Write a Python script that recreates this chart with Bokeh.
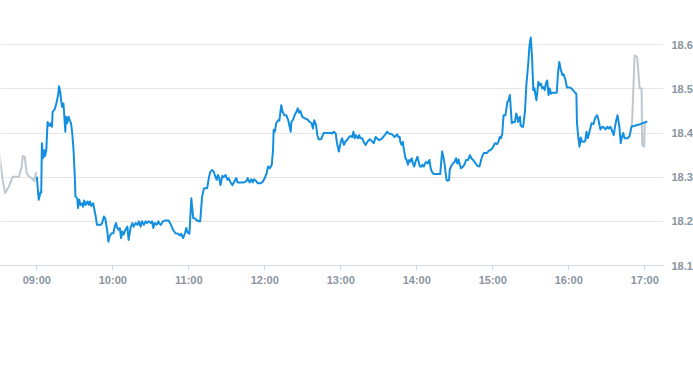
import pandas as pd
from bokeh.plotting import figure
from bokeh.models import FixedTicker, DatetimeTickFormatter, Range1d, NumeralTickFormatter
from bokeh.embed import file_html
from bokeh.resources import INLINE

DAY = "2024-03-15"

blue_times = [
    "09:00:00","09:01:30","09:03:00","09:03:30","09:04:00","09:05:00","09:06:00","09:06:30","09:07:30","09:08:30",
    "09:10:00","09:11:00","09:12:00","09:12:30","09:14:00","09:15:30","09:16:00","09:17:00","09:17:30","09:18:30",
    "09:19:30","09:20:00","09:21:00","09:21:30","09:22:30","09:23:00","09:24:00","09:25:00","09:26:00","09:27:00",
    "09:28:00","09:29:00","09:30:00","09:30:30","09:32:00","09:32:30","09:33:30","09:34:30","09:36:00","09:36:30",
    "09:37:30","09:38:30","09:40:00","09:41:00","09:42:00","09:43:00","09:44:30","09:45:30","09:46:30","09:47:30",
    "09:49:00","09:50:30","09:51:30","09:53:00","09:54:00","09:55:30","09:56:30","09:57:30","09:59:00","10:00:30",
    "10:01:30","10:02:30","10:03:30","10:04:30","10:05:30","10:06:30","10:07:30","10:08:30","10:10:00","10:11:30",
    "10:12:30","10:14:00","10:15:30","10:16:30","10:18:00","10:19:30","10:20:30","10:22:00","10:23:00","10:24:30",
    "10:26:00","10:27:00","10:28:30","10:30:00","10:31:00","10:32:00","10:33:00","10:34:30","10:36:00","10:37:00",
    "10:38:00","10:39:30","10:41:30","10:44:00","10:46:00","10:47:30","10:49:30","10:51:30","10:53:00","10:54:00",
    "10:55:30","10:57:00","10:58:00","10:59:00","11:00:30","11:02:00","11:03:30","11:04:30","11:06:00","11:08:00",
    "11:09:00","11:10:30","11:12:00","11:13:00","11:14:30","11:16:00","11:17:00","11:18:30","11:19:30","11:21:00",
    "11:22:00","11:23:00","11:24:00","11:25:00","11:26:30","11:27:30","11:29:00","11:30:30","11:31:30","11:33:00",
    "11:34:30","11:36:00","11:37:30","11:38:30","11:41:00","11:43:30","11:45:30","11:46:30","11:48:00","11:49:30",
    "11:50:30","11:51:30","11:53:00","11:54:30","11:56:30","11:58:30","12:00:00","12:01:30","12:02:30","12:04:00",
    "12:05:30","12:06:30","12:07:00","12:08:00","12:09:00","12:10:30","12:11:30","12:13:00","12:14:00","12:15:30",
    "12:17:00","12:18:30","12:20:30","12:21:00","12:22:30","12:23:30","12:25:00","12:26:00","12:27:00","12:28:00",
    "12:29:30","12:31:30","12:33:30","12:35:30","12:37:00","12:38:00","12:39:00","12:40:30","12:41:30","12:42:30",
    "12:44:30","12:46:30","12:49:30","12:52:00","12:53:00","12:54:30","12:56:00","12:57:00","12:58:30","13:00:00",
    "13:01:00","13:02:30","13:03:30","13:05:00","13:06:30","13:07:30","13:09:00","13:10:00","13:11:00","13:12:00",
    "13:13:30","13:14:30","13:15:30","13:17:00","13:18:00","13:19:30","13:21:30","13:23:00","13:25:00","13:26:00",
    "13:27:30","13:28:30","13:30:00","13:32:00","13:33:30","13:35:30","13:36:30","13:38:00","13:40:30","13:42:30",
    "13:44:30","13:45:30","13:46:30","13:47:00","13:48:00","13:49:00","13:49:30","13:51:00","13:52:00","13:53:00",
    "13:54:00","13:55:00","13:56:00","13:57:00","13:58:00","13:59:00","14:00:30","14:01:30","14:02:30","14:03:30",
    "14:04:30","14:05:30","14:06:30","14:07:30","14:08:30","14:10:00","14:11:00","14:12:00","14:13:30","14:16:00",
    "14:18:30","14:20:00","14:21:30","14:22:30","14:23:30","14:24:30","14:25:30","14:26:00","14:27:00","14:28:30",
    "14:30:00","14:31:00","14:32:00","14:33:00","14:34:00","14:35:00","14:36:30","14:37:30","14:39:00","14:40:30",
    "14:42:00","14:43:00","14:44:30","14:46:30","14:48:00","14:49:30","14:51:30","14:53:00","14:55:30","14:57:00",
    "14:58:00","14:59:30","15:01:00","15:02:00","15:03:30","15:04:30","15:05:30","15:06:30","15:07:30","15:08:30",
    "15:10:00","15:11:30","15:12:30","15:13:30","15:15:00","15:16:00","15:17:30","15:18:30","15:19:30","15:20:00",
    "15:21:30","15:22:00","15:23:00","15:24:00","15:25:30","15:26:30","15:28:00","15:29:00","15:30:00","15:31:00",
    "15:32:00","15:33:00","15:33:30","15:34:30","15:36:00","15:37:00","15:38:00","15:39:00","15:40:00","15:41:00",
    "15:42:00","15:43:00","15:44:00","15:45:00","15:46:00","15:47:00","15:48:30","15:50:30","15:51:30","15:52:30",
    "15:53:30","15:55:00","15:56:00","15:57:30","15:58:30","16:01:00","16:02:30","16:04:30","16:06:00","16:06:30",
    "16:07:30","16:08:30","16:09:30","16:10:30","16:12:00","16:13:00","16:14:00","16:15:00","16:16:00","16:17:00",
    "16:18:00","16:19:30","16:20:30","16:21:30","16:22:30","16:23:30","16:25:00","16:26:30","16:27:30","16:29:00",
    "16:30:30","16:31:30","16:33:00","16:34:30","16:35:30","16:36:30","16:37:30","16:38:30","16:40:00","16:41:00",
    "16:42:00","16:43:00","16:44:00","16:45:00","16:46:30","16:48:00","16:49:30","16:51:30","16:54:00","16:56:30",
    "16:59:00","17:02:00",
]
blue_prices = [
    18.301,18.249,18.267,18.265,18.377,18.343,18.361,18.348,18.361,18.425,
    18.416,18.422,18.414,18.448,18.453,18.467,18.474,18.489,18.506,18.493,
    18.467,18.459,18.467,18.448,18.403,18.437,18.422,18.437,18.429,18.422,
    18.399,18.361,18.301,18.256,18.252,18.230,18.249,18.237,18.241,18.233,
    18.247,18.237,18.245,18.237,18.245,18.235,18.241,18.226,18.211,18.192,
    18.192,18.192,18.196,18.211,18.207,18.181,18.154,18.166,18.173,18.173,
    18.188,18.196,18.185,18.181,18.185,18.162,18.177,18.170,18.181,18.188,
    18.158,18.185,18.196,18.188,18.196,18.192,18.200,18.188,18.200,18.192,
    18.200,18.196,18.200,18.196,18.200,18.185,18.196,18.192,18.200,18.194,
    18.192,18.200,18.202,18.202,18.192,18.181,18.173,18.172,18.168,18.172,
    18.162,18.173,18.185,18.175,18.172,18.252,18.207,18.207,18.203,18.200,
    18.200,18.256,18.275,18.275,18.275,18.301,18.312,18.316,18.314,18.301,
    18.294,18.305,18.298,18.282,18.303,18.300,18.305,18.294,18.298,18.288,
    18.282,18.290,18.298,18.288,18.288,18.288,18.291,18.298,18.288,18.295,
    18.288,18.295,18.292,18.286,18.286,18.290,18.298,18.309,18.324,18.320,
    18.328,18.361,18.407,18.403,18.422,18.429,18.428,18.463,18.448,18.440,
    18.440,18.429,18.403,18.425,18.431,18.440,18.448,18.456,18.446,18.450,
    18.437,18.433,18.431,18.425,18.422,18.410,18.429,18.418,18.395,18.386,
    18.386,18.400,18.400,18.400,18.399,18.403,18.399,18.377,18.358,18.380,
    18.388,18.373,18.380,18.384,18.391,18.393,18.391,18.403,18.388,18.395,
    18.388,18.395,18.388,18.388,18.380,18.373,18.382,18.386,18.380,18.377,
    18.391,18.388,18.384,18.386,18.391,18.398,18.403,18.399,18.397,18.391,
    18.397,18.391,18.391,18.380,18.373,18.380,18.369,18.343,18.339,18.328,
    18.339,18.335,18.343,18.331,18.324,18.335,18.346,18.335,18.324,18.324,
    18.328,18.324,18.331,18.335,18.331,18.339,18.320,18.312,18.307,18.307,
    18.307,18.358,18.339,18.316,18.294,18.292,18.294,18.316,18.324,18.331,
    18.335,18.343,18.331,18.340,18.328,18.320,18.324,18.328,18.339,18.339,
    18.350,18.343,18.339,18.331,18.325,18.324,18.346,18.355,18.355,18.360,
    18.361,18.365,18.373,18.377,18.375,18.380,18.391,18.388,18.399,18.440,
    18.440,18.470,18.474,18.486,18.422,18.425,18.425,18.444,18.435,18.425,
    18.437,18.418,18.414,18.414,18.452,18.508,18.557,18.598,18.616,18.572,
    18.497,18.501,18.489,18.474,18.516,18.508,18.512,18.501,18.504,18.497,
    18.513,18.519,18.486,18.501,18.489,18.491,18.491,18.491,18.535,18.561,
    18.546,18.531,18.533,18.519,18.503,18.503,18.500,18.493,18.489,18.422,
    18.391,18.369,18.390,18.380,18.380,18.382,18.403,18.388,18.399,18.410,
    18.422,18.420,18.431,18.438,18.440,18.429,18.408,18.414,18.413,18.408,
    18.414,18.410,18.414,18.403,18.395,18.414,18.429,18.440,18.414,18.377,
    18.391,18.400,18.388,18.388,18.388,18.393,18.414,18.416,18.418,18.420,
    18.423,18.426,
]

pre_times = ["08:30:00","08:33:00","08:35:00","08:38:00","08:41:00","08:46:00","08:48:00",
             "08:49:00","08:50:30","08:52:00","08:54:00","08:56:00","08:58:00","08:59:30"]
pre_prices = [18.361,18.294,18.264,18.279,18.301,18.301,18.324,
              18.348,18.346,18.309,18.301,18.298,18.291,18.312]

post_times = ["16:49:30","16:50:00","16:52:00","16:54:00","16:56:00","16:57:30","16:58:00","16:59:30","17:00:00"]
post_prices = [18.414,18.425,18.576,18.572,18.501,18.501,18.373,18.369,18.425]

hour_ticks = ["09:00","10:00","11:00","12:00","13:00","14:00","15:00","16:00","17:00"]
price_ticks = [18.1, 18.2, 18.3, 18.4, 18.5, 18.6]
x_start, x_end = "08:31:20", "17:14:48"
y_start, y_end = 18.1, 18.7


def ts(times):
    return pd.to_datetime([f"{DAY} {t}" for t in times])


def ms(times):
    return [int(t.value // 10**6) for t in ts(times)]


p = figure(
    frame_width=663, frame_height=265,
    x_axis_type="datetime", y_axis_location="right",
    x_range=Range1d(ts([x_start])[0], ts([x_end])[0]),
    y_range=Range1d(y_start, y_end),
    output_backend="svg", toolbar_location=None,
    min_border_left=0, min_border_top=0, min_border_bottom=100, min_border_right=0,
)
p.outline_line_color = None
p.background_fill_color = "white"
p.border_fill_color = "white"

GRAY = "#bfc7cf"
BLUE = "#148fe0"
p.line(ts(pre_times), pre_prices, line_color=GRAY, line_width=2, line_join="round")
p.line(ts(post_times), post_prices, line_color=GRAY, line_width=2, line_join="round")
p.line(ts(blue_times), blue_prices, line_color=BLUE, line_width=2, line_join="round")

p.xgrid.visible = False
p.ygrid.grid_line_color = "#e6e6e6"
p.ygrid.ticker = FixedTicker(ticks=price_ticks)

LABEL = "#8a949f"
xa = p.xaxis[0]
xa.ticker = FixedTicker(ticks=ms(hour_ticks))
xa.formatter = DatetimeTickFormatter(hours="%H:%M", minutes="%H:%M", hourmin="%H:%M")
xa.axis_line_color = "#ccd6eb"
xa.major_tick_line_color = "#ccd6eb"
xa.major_tick_out = 5
xa.major_tick_in = 0
xa.minor_tick_line_color = None
xa.major_label_standoff = 3
xa.major_label_text_color = LABEL
xa.major_label_text_font = "Liberation Sans"
xa.major_label_text_font_size = "11px"
xa.major_label_text_font_style = "bold"

ya = p.yaxis[0]
ya.ticker = FixedTicker(ticks=price_ticks)
ya.formatter = NumeralTickFormatter(format="0.0")
ya.axis_line_color = None
ya.major_tick_line_color = None
ya.major_tick_out = 0
ya.major_tick_in = 0
ya.minor_tick_line_color = None
ya.minor_tick_out = 0
ya.major_label_standoff = 8
ya.major_label_text_color = LABEL
ya.major_label_text_font = "Liberation Sans"
ya.major_label_text_font_size = "11px"
ya.major_label_text_font_style = "bold"

open("out.html", "w").write(file_html(p, INLINE))
